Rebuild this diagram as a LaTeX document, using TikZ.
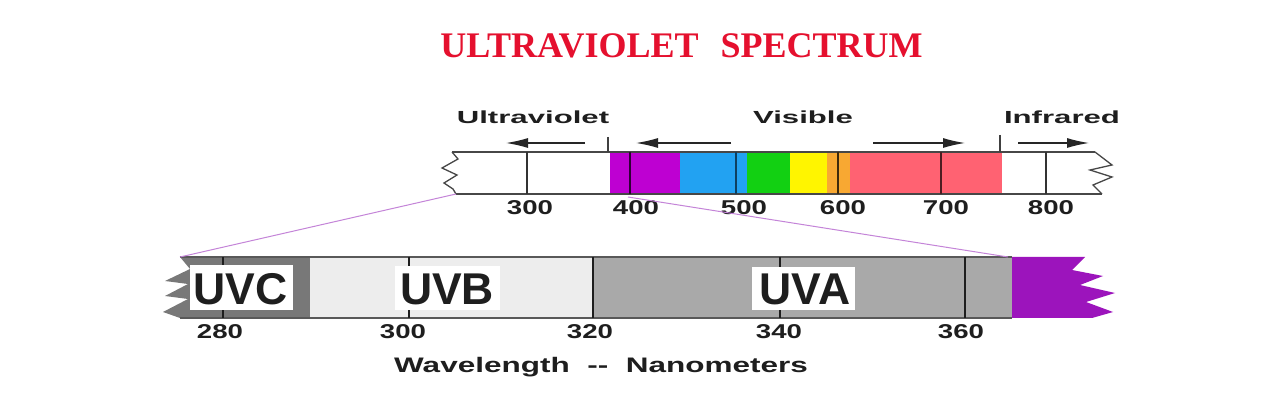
\documentclass[tikz,border=0pt]{standalone}
\usepackage{fontspec}
\setmainfont{Liberation Sans}
\newfontfamily\titlefont{Liberation Serif}
\usepackage{graphicx}
\usetikzlibrary{arrows.meta}
\definecolor{titlered}{HTML}{E5102E}
\definecolor{vio}{HTML}{BE00D2}
\definecolor{vio2}{HTML}{9C14BC}
\definecolor{sblue}{HTML}{22A2F2}
\definecolor{sgreen}{HTML}{12D012}
\definecolor{syellow}{HTML}{FFF500}
\definecolor{sorange}{HTML}{F8A832}
\definecolor{sred}{HTML}{FF6272}
\definecolor{uvc}{HTML}{787878}
\definecolor{uvb}{HTML}{EDEDED}
\definecolor{uva}{HTML}{A9A9A9}
\definecolor{linkc}{HTML}{C484D8}
\definecolor{ink}{HTML}{1E1E1E}
\newcommand\toplab[1]{\scalebox{1.78}[1]{\fontsize{17.5}{20}\selectfont\bfseries #1}}
\newcommand\numlab[1]{\scalebox{1.38}[1]{\fontsize{20}{24}\selectfont\bfseries #1}}
\newcommand\biglab[1]{\fontsize{44.5}{50}\selectfont\bfseries #1}
\begin{document}
\begin{tikzpicture}[x=1pt,y=-1pt,
  barline/.style={draw=black!72,line width=1.5pt},
  tick/.style={line width=1.8pt},
  lab/.style={inner sep=0pt,anchor=base,text=ink},
  uvarrow/.style={draw=black!85,line width=1.2pt,-{Latex[length=22pt,width=10pt]}},
  link/.style={draw=linkc,line width=1pt},
  labelbox/.style={fill=white,draw=none}]
\useasboundingbox (0,0) rectangle (1280,403);
\fill[white] (0,0) rectangle (1280,403);

% title
\node[lab,text=titlered] (title) at (681.5,58) {\titlefont\bfseries\fontsize{36}{42}\selectfont ULTRAVIOLET\hspace{22pt}SPECTRUM};

% ---------- top bar ----------
\fill[vio] (610,152) rectangle (680,194);
\fill[sblue] (680,152) rectangle (747,194);
\fill[sgreen] (747,152) rectangle (790,194);
\fill[syellow] (790,152) rectangle (827,194);
\fill[sorange] (827,152) rectangle (850,194);
\fill[sred] (850,152) rectangle (1002,194);

\coordinate (tl) at (452,152);
\coordinate (bl) at (456,194);
\coordinate (tr) at (1095,152);
\coordinate (br) at (1102,194);
\draw[barline] (tl) -- (tr);
\draw[barline] (bl) -- (br);
\draw[barline,line width=1.3pt] (tl) -- (458,159) -- (442,168) -- (457,175) -- (444,183) -- (453,189) -- (bl);
\draw[barline,line width=1.3pt] (tr) -- (1112,165) -- (1090,170) -- (1112,177) -- (1093,185) -- (br);

\draw[tick,black!80] (527,152) -- (527,194);
\draw[tick,black!75!vio] (630,152) -- (630,194);
\draw[tick,black!60!sblue] (736,152) -- (736,194);
\draw[tick,black!75!sorange] (838,152) -- (838,194);
\draw[tick,black!70!sred] (941,152) -- (941,194);
\draw[tick,black!80] (1046,152) -- (1046,194);
\draw[line width=1.2pt,black!75] (608,137) -- (608,152);
\draw[line width=1.2pt,black!75] (1000,135) -- (1000,152);

% region labels and arrows
\node[lab] (ultra) at (533,124) {\toplab{Ultraviolet}};
\node[lab] (vis) at (803,124) {\toplab{Visible}};
\node[lab] (ir) at (1062,124) {\toplab{Infrared}};
\coordinate (a1s) at (585,143); \coordinate (a1e) at (506,143);
\coordinate (a2s) at (731,143); \coordinate (a2e) at (636,143);
\coordinate (a3s) at (873,143); \coordinate (a3e) at (965,143);
\coordinate (a4s) at (1018,143); \coordinate (a4e) at (1089,143);
\draw[uvarrow] (a1s) -- (a1e);
\draw[uvarrow] (a2s) -- (a2e);
\draw[uvarrow] (a3s) -- (a3e);
\draw[uvarrow] (a4s) -- (a4e);

% numbers top
\node[lab] (n300) at (530,215) {\numlab{300}};
\node[lab] (n400) at (636,215) {\numlab{400}};
\node[lab] (n500) at (744,215) {\numlab{500}};
\node[lab] (n600) at (843,215) {\numlab{600}};
\node[lab] (n700) at (946,215) {\numlab{700}};
\node[lab] (n800) at (1051,215) {\numlab{800}};

% ---------- lower bar ----------
\fill[uvc] (180,257) -- (310,257) -- (310,318) -- (180,318) -- (163,312) -- (188,299) -- (165,296) -- (188,284) -- (165,281) -- (190,269) -- cycle;
\fill[uvb] (310,257) rectangle (593,318);
\fill[uva] (593,257) rectangle (1012,318);
\fill[vio2] (1012,257) -- (1085,257) -- (1072,270) -- (1103,276) -- (1080,285) -- (1115,293) -- (1086,302) -- (1113,312) -- (1092,318) -- (1012,318) -- cycle;

\coordinate (ltl) at (180,257);
\coordinate (ltr) at (1012,257);
\coordinate (lbl) at (180,318);
\coordinate (lbr) at (1012,318);
\draw[barline,draw=black!65,line width=2pt] (ltl) -- (ltr);
\draw[barline,draw=black!65,line width=2pt] (lbl) -- (lbr);

\draw[tick,ink] (223,257) -- (223,318);
\draw[tick,ink] (409,257) -- (409,318);
\draw[tick,ink] (593,257) -- (593,318);
\draw[tick,ink] (780,257) -- (780,318);
\draw[tick,ink] (965,257) -- (965,318);

\fill[labelbox] (190,265) rectangle (293,310);
\fill[labelbox] (395,266) rectangle (500,310);
\fill[labelbox] (752,267) rectangle (855,310);
\node[lab] (uvcl) at (240.5,305) {\biglab{UVC}};
\node[lab] (uvbl) at (447,305) {\biglab{UVB}};
\node[lab] (uval) at (805,305) {\biglab{UVA}};

% zoom links
\draw[link] (bl) -- (ltl);
\coordinate (z400) at (628,197);
\draw[link] (z400) -- (1008,257);

% numbers bottom
\node[lab] (m280) at (220,339) {\numlab{280}};
\node[lab] (m300) at (403,339) {\numlab{300}};
\node[lab] (m320) at (590,339) {\numlab{320}};
\node[lab] (m340) at (779,339) {\numlab{340}};
\node[lab] (m360) at (961,339) {\numlab{360}};

\node[lab] (axis) at (601,372) {\scalebox{1.5}[1]{\fontsize{21}{25}\selectfont\bfseries Wavelength\ \ {-}{-}\ \ Nanometers}};
\end{tikzpicture}
\end{document}
